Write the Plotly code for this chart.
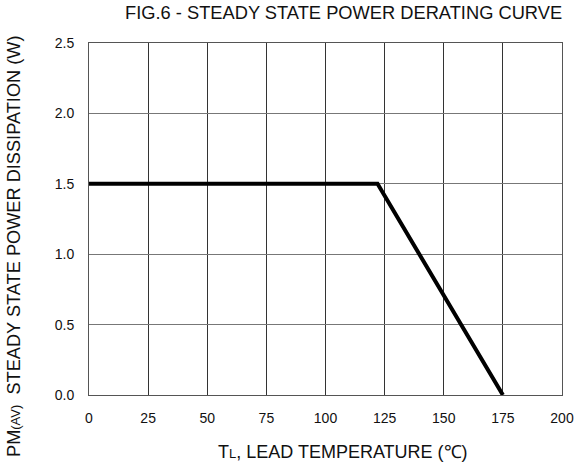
import plotly.graph_objects as go

temps = [0, 122, 175]
power = [1.5, 1.5, 0.0]
x_ticks = [0, 25, 50, 75, 100, 125, 150, 175, 200]
y_ticks = [0.0, 0.5, 1.0, 1.5, 2.0, 2.5]
y_tick_labels = ["0.0", "0.5", "1.0", "1.5", "2.0", "2.5"]

fig = go.Figure()
fig.add_trace(go.Scatter(x=temps, y=power, mode="lines",
                         line=dict(color="black", width=4), showlegend=False,
                         hoverinfo="skip"))

font = "Liberation Sans, Arial, sans-serif"
fig.update_layout(
    width=581, height=467,
    margin=dict(l=89, r=19, t=43, b=72, autoexpand=False),
    paper_bgcolor="white", plot_bgcolor="white",
    font=dict(family=font, color="#111", size=14),
)
fig.add_annotation(text="FIG.6 - STEADY STATE POWER DERATING CURVE",
                   xref="paper", yref="paper", x=0.539, y=1.0, yshift=31,
                   xanchor="center", yanchor="middle", showarrow=False,
                   font=dict(size=18.3, color="#111", family=font))
fig.add_annotation(text="T<span style='font-size:13px'>L</span>, LEAD TEMPERATURE (℃)",
                   xref="paper", yref="paper", x=0.5, y=0, xshift=17, yshift=-57,
                   xanchor="center", yanchor="middle", showarrow=False,
                   font=dict(size=18, color="#111", family=font))
fig.add_annotation(text="PM<span style='font-size:13px'>(AV)</span>  STEADY STATE POWER DISSIPATION (W)",
                   xref="paper", yref="paper", x=0, y=0.5, xshift=-75, yshift=-27,
                   xanchor="center", yanchor="middle", textangle=-90, showarrow=False,
                   font=dict(size=18.2, color="#111", family=font))

fig.update_xaxes(range=[0, 200], tickvals=x_ticks, ticktext=[str(v) for v in x_ticks],
                 showgrid=True, gridcolor="#333", gridwidth=1,
                 showline=True, linecolor="#555", linewidth=1, mirror=True,
                 ticks="outside", ticklen=10, tickcolor="white", zeroline=False,
                 automargin=False, tickfont=dict(size=14))
fig.update_yaxes(range=[0, 2.5], tickvals=y_ticks, ticktext=y_tick_labels,
                 showgrid=True, gridcolor="#777", gridwidth=1,
                 showline=True, linecolor="#555", linewidth=1, mirror=True,
                 ticks="outside", ticklen=11, tickcolor="white", zeroline=False,
                 automargin=False, tickfont=dict(size=14))

fig.write_html("out.html", config={"displayModeBar": False},
               post_script="document.body.style.margin='0px';")
